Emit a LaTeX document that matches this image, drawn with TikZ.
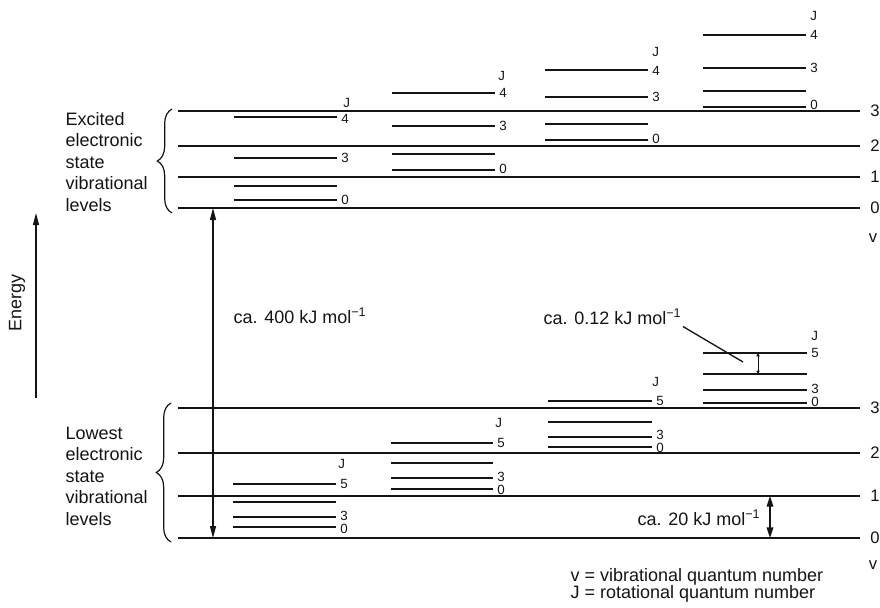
\documentclass[tikz,border=0pt]{standalone}
\usepackage{fontspec}
\setmainfont{Liberation Sans}
\usetikzlibrary{arrows.meta,decorations.pathreplacing}
\definecolor{LevelInk}{HTML}{141414}

\begin{document}
\begin{tikzpicture}[x=0.75pt,y=-0.75pt,
    vib/.style={LevelInk,line width=1.5pt},
    rot/.style={LevelInk,line width=1.7pt},
    jnum/.style={text=LevelInk,anchor=west,inner sep=0pt,font=\fontsize{10}{11}\selectfont},
    vnum/.style={text=LevelInk,inner sep=0pt,font=\fontsize{12.5}{13}\selectfont},
    txt/.style={text=LevelInk,inner sep=1pt,font=\fontsize{13.5}{16.1}\selectfont},
    bracket/.style={LevelInk,line width=0.9pt,decorate,decoration={brace,amplitude=11pt}},
    bigtip/.style={LevelInk,line width=1pt},
    tip/.tip={Triangle[length=9pt,width=4.5pt]}]
  \useasboundingbox (0,0) rectangle (880,607);

  % energy axis
  \coordinate (enBot) at (36,398);
  \coordinate (enTop) at (36,213);
  \draw[bigtip,-tip] (enBot) -- (enTop);
  \node[txt,rotate=90] (energy) at (17,303) {Energy};

  % excited state, vibrational levels
  \draw[vib] (178,111) -- (860,111);
  \draw[vib] (178,146) -- (860,146);
  \draw[vib] (178,177) -- (860,177);
  \draw[vib] (178,208) -- (860,208);
  \node[vnum] (ev3) at (875,111) {3};
  \node[vnum] (ev2) at (875,146) {2};
  \node[vnum] (ev1) at (875,177) {1};
  \node[vnum] (ev0) at (875,208) {0};
  \node[vnum] (evsym) at (873,238) {v};
  \draw[bracket] (172,213) -- (172,109);
  \node[txt,anchor=west,align=left] (exlabel) at (64,162)
    {Excited\\electronic\\state\\vibrational\\levels};

  % excited state, rotational levels
  \draw[rot] (234,117) -- (337,117) (234,158) -- (337,158) (234,186) -- (337,186) (234,200) -- (337,200);
  \node[jnum] (e1j4) at (341,119) {4};
  \node[jnum] (e1j3) at (341,158) {3};
  \node[jnum] (e1j0) at (341,200) {0};
  \node[jnum] (e1J) at (343,103) {J};
  \draw[rot] (392,93) -- (495,93) (392,126) -- (495,126) (392,154) -- (495,154) (392,170) -- (495,170);
  \node[jnum] (e2j4) at (499,93) {4};
  \node[jnum] (e2j3) at (499,126) {3};
  \node[jnum] (e2j0) at (499,169) {0};
  \node[jnum] (e2J) at (498,76) {J};
  \draw[rot] (545,70) -- (648,70) (545,97) -- (648,97) (545,124) -- (648,124) (545,140) -- (648,140);
  \node[jnum] (e3j4) at (652,71) {4};
  \node[jnum] (e3j3) at (652,97) {3};
  \node[jnum] (e3j0) at (652,139) {0};
  \node[jnum] (e3J) at (652,52) {J};
  \draw[rot] (703,35) -- (806,35) (703,68) -- (806,68) (703,91) -- (806,91) (703,107) -- (806,107);
  \node[jnum] (e4j4) at (810,35) {4};
  \node[jnum] (e4j3) at (810,68) {3};
  \node[jnum] (e4j0) at (810,105) {0};
  \node[jnum] (e4J) at (810,16) {J};

  % lowest state, vibrational levels
  \draw[vib] (178,408) -- (860,408);
  \draw[vib] (178,453) -- (860,453);
  \draw[vib] (178,496) -- (860,496);
  \draw[vib] (178,538) -- (860,538);
  \node[vnum] (gv3) at (875,408) {3};
  \node[vnum] (gv2) at (875,453) {2};
  \node[vnum] (gv1) at (875,496) {1};
  \node[vnum] (gv0) at (875,538) {0};
  \node[vnum] (gvsym) at (873,565) {v};
  \draw[bracket] (171,542) -- (171,403);
  \node[txt,anchor=west,align=left] (grlabel) at (64,476)
    {Lowest\\electronic\\state\\vibrational\\levels};

  % lowest state, rotational levels
  \draw[rot] (233,484) -- (336,484) (233,502) -- (336,502) (233,517) -- (336,517) (233,527) -- (336,527);
  \node[jnum] (g1j5) at (340,484) {5};
  \node[jnum] (g1j3) at (340,516) {3};
  \node[jnum] (g1j0) at (340,529) {0};
  \node[jnum] (g1J) at (338,464) {J};
  \draw[rot] (391,443) -- (493,443) (391,463) -- (493,463) (391,478) -- (493,478) (391,489) -- (493,489);
  \node[jnum] (g2j5) at (497,443) {5};
  \node[jnum] (g2j3) at (497,477) {3};
  \node[jnum] (g2j0) at (497,490) {0};
  \node[jnum] (g2J) at (495,423) {J};
  \draw[rot] (548,401) -- (652,401) (548,422) -- (652,422) (548,437) -- (652,437) (548,447) -- (652,447);
  \node[jnum] (g3j5) at (656,401) {5};
  \node[jnum] (g3j3) at (656,435) {3};
  \node[jnum] (g3j0) at (656,448) {0};
  \node[jnum] (g3J) at (652,382) {J};
  \draw[rot] (703,353) -- (807,353) (703,374) -- (807,374) (703,390) -- (807,390) (703,403) -- (807,403);
  \node[jnum] (g4j5) at (811,353) {5};
  \node[jnum] (g4j3) at (811,389) {3};
  \node[jnum] (g4j0) at (811,402) {0};
  \node[jnum] (g4J) at (811,336) {J};

  % energy gaps
  \coordinate (exZero) at (213,208);
  \coordinate (grZero) at (213,538);
  \draw[bigtip,tip-tip] (grZero) -- (exZero);
  \node[txt,anchor=west] (bignote) at (232,316) {ca. 400 kJ mol\textsuperscript{−1}};

  \coordinate (vibOne) at (770,496);
  \coordinate (vibNil) at (770,538);
  \draw[bigtip,{Triangle[length=8pt,width=5pt]}-{Triangle[length=8pt,width=5pt]}] (vibNil) -- (vibOne);
  \node[txt,anchor=east] (vibnote) at (762,518) {ca. 20 kJ mol\textsuperscript{−1}};

  \coordinate (rotHi) at (758,353);
  \coordinate (rotLo) at (758,374);
  \draw[LevelInk,line width=0.5pt,{Triangle[length=2.5pt,width=2.5pt]}-{Triangle[length=2.5pt,width=2.5pt]}] (rotLo) -- (rotHi);
  \node[txt,anchor=west] (rotnote) at (542,317) {ca. 0.12 kJ mol\textsuperscript{−1}};
  \coordinate (rotTip) at (743,362);
  \draw[bigtip] (rotnote.south east) -- (rotTip);

  % legend
  \node[txt,anchor=west] (legv) at (569,577) {v = vibrational quantum number};
  \node[txt,anchor=west] (legj) at (569,594) {J = rotational quantum number};
\end{tikzpicture}
\end{document}
